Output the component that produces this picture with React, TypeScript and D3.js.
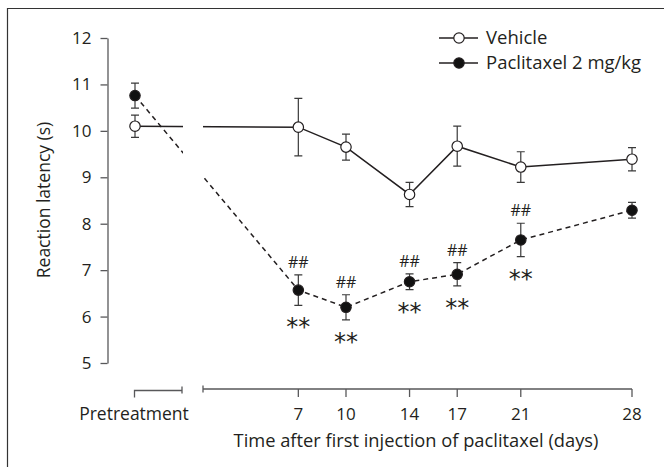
import React, { useEffect, useRef } from 'react';
import * as d3 from 'd3';

const days = [7, 10, 14, 17, 21, 28];
const vehiclePre = { mean: 10.1, sem: 0.24 };
const vehicleMean = [10.08, 9.65, 8.63, 9.67, 9.22, 9.39];
const vehicleSem = [0.62, 0.28, 0.26, 0.43, 0.33, 0.25];
const paclitaxelPre = { mean: 10.76, sem: 0.27 };
const paclitaxelMean = [6.57, 6.2, 6.75, 6.91, 7.65, 8.29];
const paclitaxelSem = [0.33, 0.27, 0.17, 0.25, 0.36, 0.17];
const hashMarks = ['##', '##', '##', '##', '##', ''];
const starMarks = ['**', '**', '**', '**', '**', ''];
const yTicks = [5, 6, 7, 8, 9, 10, 11, 12];
const seriesNames = ['Vehicle', 'Paclitaxel 2 mg/kg'];

const FONT = '"Open Sans", sans-serif';
const INK = '#231f20';
const AXIS = '#58585a';

function App() {
  const ref = useRef<SVGSVGElement>(null);

  useEffect(() => {
    const svg = d3.select(ref.current);
    svg.selectAll('*').remove();

    const y = d3.scaleLinear().domain([5, 12]).range([363, 38]);
    const x = d3.scaleLinear().domain([1, 28]).range([203, 632]);
    // pretreatment sits on its own short axis segment
    const xPre = d3.scaleLinear().domain([0, 1]).range([134.5, 182]);
    const preX = xPre(0) + 0.5;

    // frame (cropped: only top and left edges show)
    svg.append('path')
      .attr('d', 'M7.5,467 V8.5 H664')
      .attr('fill', 'none')
      .attr('stroke', '#333')
      .attr('stroke-width', 1.2);

    // y axis
    const yAxis = svg.append('g')
      .attr('transform', 'translate(107.5,0)')
      .call(d3.axisLeft(y).tickValues(yTicks).tickFormat(d3.format('d')).tickSize(7).tickSizeOuter(0).tickPadding(9));
    yAxis.select('.domain').attr('stroke', AXIS).attr('stroke-width', 1.3);
    yAxis.selectAll('.tick line').attr('stroke', AXIS).attr('stroke-width', 1.3);
    yAxis.selectAll('.tick text')
      .attr('font-family', FONT).attr('font-size', 17).attr('fill', INK);

    svg.append('text')
      .attr('transform', 'translate(50,200) rotate(-90)')
      .attr('text-anchor', 'middle')
      .attr('font-family', FONT).attr('font-size', 17.5).attr('fill', INK)
      .text('Reaction latency (s)');

    // x axis: pretreatment segment
    const axisY = 390.5;
    const gx = svg.append('g').attr('stroke', AXIS).attr('stroke-width', 1.3);
    gx.append('path').attr('fill', 'none')
      .attr('d', `M${xPre(0)},${axisY + 7} V${axisY} H${xPre(1)} M${xPre(1)},${axisY - 4} V${axisY + 3}`);
    // main segment
    const y0 = axisY - 1.5;
    gx.append('path').attr('fill', 'none')
      .attr('d', `M${x(1)},${y0 - 3.5} V${y0 + 3.5} M${x(1)},${y0} H${x(28)}`);
    gx.selectAll('line.tk').data(days).enter().append('line')
      .attr('x1', d => x(d)).attr('x2', d => x(d))
      .attr('y1', y0).attr('y2', y0 + 8);

    svg.selectAll('text.xt').data(days).enter().append('text')
      .attr('x', d => x(d)).attr('y', 420)
      .attr('text-anchor', 'middle')
      .attr('font-family', FONT).attr('font-size', 17).attr('fill', INK)
      .text(d => d);
    svg.append('text')
      .attr('x', preX - 1).attr('y', 420).attr('text-anchor', 'middle')
      .attr('font-family', FONT).attr('font-size', 17.5).attr('fill', INK)
      .text('Pretreatment');
    svg.append('text')
      .attr('x', 416).attr('y', 447).attr('text-anchor', 'middle')
      .attr('font-family', FONT).attr('font-size', 18.3).attr('fill', INK)
      .text('Time after first injection of paclitaxel (days)');

    // clip lines through the axis break
    const defs = svg.append('defs');
    const clip = defs.append('clipPath').attr('id', 'brk');
    clip.append('rect').attr('x', 0).attr('y', 0).attr('width', xPre(1) + 1).attr('height', 467);
    clip.append('rect').attr('x', x(1)).attr('y', 0).attr('width', 664).attr('height', 467);

    const series = [
      { pre: vehiclePre, mean: vehicleMean, sem: vehicleSem, open: true },
      { pre: paclitaxelPre, mean: paclitaxelMean, sem: paclitaxelSem, open: false },
    ];

    const line = d3.line<[number, number]>().x(d => d[0]).y(d => d[1]);

    series.forEach(s => {
      const pts: [number, number][] = [[preX, y(s.pre.mean)], ...days.map((d, i) => [x(d), y(s.mean[i])] as [number, number])];
      svg.append('path')
        .attr('d', line(pts))
        .attr('clip-path', 'url(#brk)')
        .attr('fill', 'none')
        .attr('stroke', INK)
        .attr('stroke-width', 1.5)
        .attr('stroke-dasharray', s.open ? null : '5,4');
    });

    series.forEach(s => {
      const pts = [
        { x: preX, m: s.pre.mean, e: s.pre.sem },
        ...days.map((d, i) => ({ x: x(d), m: s.mean[i], e: s.sem[i] })),
      ];
      const g = svg.append('g').attr('stroke', '#3a3a3a').attr('stroke-width', 1.2).attr('fill', 'none');
      g.selectAll('path').data(pts).enter().append('path')
        .attr('d', p => {
          const t = y(p.m + p.e), b = y(p.m - p.e);
          return `M${p.x},${t} V${b} M${p.x - 4},${t} H${p.x + 4} M${p.x - 4},${b} H${p.x + 4}`;
        });
      svg.append('g').selectAll('circle').data(pts).enter().append('circle')
        .attr('cx', p => p.x).attr('cy', p => y(p.m)).attr('r', 5.2)
        .attr('fill', s.open ? '#fff' : '#111')
        .attr('stroke', INK).attr('stroke-width', 1.2);
    });

    // significance marks
    svg.selectAll('text.hash').data(days).enter().append('text')
      .attr('x', d => x(d)).attr('y', (d, i) => y(paclitaxelMean[i] + paclitaxelSem[i]) - 7)
      .attr('text-anchor', 'middle')
      .attr('font-family', FONT).attr('font-size', 16).attr('fill', INK)
      .text((d, i) => hashMarks[i]);
    svg.selectAll('text.star').data(days).enter().append('text')
      .attr('x', d => x(d)).attr('y', (d, i) => y(paclitaxelMean[i] - paclitaxelSem[i]) + 30)
      .attr('text-anchor', 'middle')
      .attr('font-family', '"DejaVu Sans", sans-serif').attr('font-size', 24).attr('fill', INK)
      .text((d, i) => starMarks[i]);

    // legend
    const lg = svg.append('g');
    seriesNames.forEach((name, i) => {
      const ly = 38 + i * 25;
      lg.append('line').attr('x1', 439).attr('x2', 478).attr('y1', ly).attr('y2', ly)
        .attr('stroke', INK).attr('stroke-width', 1.5);
      lg.append('circle').attr('cx', 459).attr('cy', ly).attr('r', 5.2)
        .attr('fill', i === 0 ? '#fff' : '#111').attr('stroke', INK).attr('stroke-width', 1.2);
      lg.append('text').attr('x', 486).attr('y', ly).attr('dy', '0.35em')
        .attr('font-family', FONT).attr('font-size', 18.5).attr('fill', INK)
        .text(name);
    });
  }, []);

  return (
    <svg ref={ref} width={664} height={467}
      style={{ position: 'absolute', left: 0, top: 0, background: '#fff' }} />
  );
}

export default App;
